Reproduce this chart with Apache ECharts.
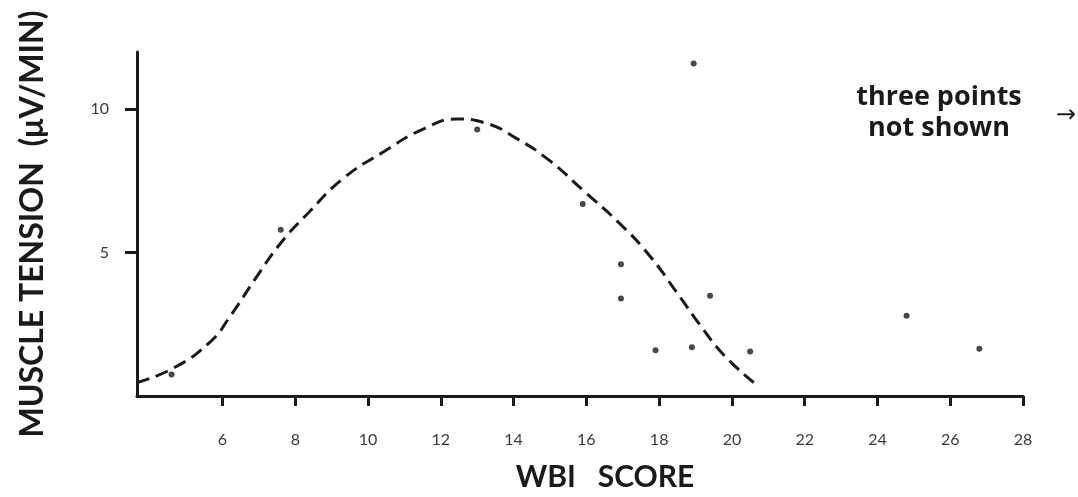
<!DOCTYPE html>
<html>
<head>
<meta charset="utf-8">
<script src="https://cdn.jsdelivr.net/npm/echarts@6/dist/echarts.min.js"></script>
<style>
  html, body { margin: 0; padding: 0; background: #fff; }
  #chart { width: 1078px; height: 497px; }
</style>
</head>
<body>
<div id="chart"></div>
<script>
// tick labels
var xTicks = [6, 8, 10, 12, 14, 16, 18, 20, 22, 24, 26, 28];
var yTicks = [5, 10];

// scatter: WBI score vs muscle tension
var wbiScore = [4.6, 7.6, 13.0, 15.9, 16.95, 16.95, 17.9, 18.9, 18.95, 19.4, 20.5, 24.8, 26.8];
var tension  = [0.75, 5.8, 9.3, 6.7, 4.6, 3.4, 1.6, 1.7, 11.6, 3.5, 1.55, 2.8, 1.65];

// hand drawn dashed trend curve
var curveX = [3.65, 4.66, 5.67, 6.22, 6.95, 7.59, 8.33, 9.33, 10.43, 11.53, 12.45, 13.18, 14.1, 15.0, 15.93, 16.93, 17.76, 18.49, 19.13, 19.77, 20.6];
var curveY = [0.47, 0.98, 1.9, 2.8, 4.18, 5.32, 6.35, 7.6, 8.52, 9.32, 9.66, 9.54, 8.97, 8.2, 7.15, 6.0, 4.86, 3.6, 2.47, 1.44, 0.47];

var ink = '#1a1a1a';
var font = 'Lato';

var myChart = echarts.init(document.getElementById('chart'));

myChart.setOption({
  backgroundColor: '#ffffff',
  animation: false,
  grid: {
    left: 137,
    right: 55,
    top: 52,
    bottom: 95
  },
  xAxis: {
    type: 'value',
    min: 3.65,
    max: 28,
    name: 'WBI   SCORE',
    nameLocation: 'middle',
    nameGap: 66,
    nameTextStyle: {
      fontFamily: font,
      fontWeight: 'bold',
      fontSize: 30,
      color: ink,
      padding: [0, 0, 0, 50]
    },
    axisLine: {
      lineStyle: { color: ink, width: 3 }
    },
    axisTick: {
      show: true,
      length: 10,
      customValues: xTicks,
      lineStyle: { color: ink, width: 3 }
    },
    axisLabel: {
      customValues: xTicks,
      margin: 36,
      fontFamily: font,
      fontSize: 16,
      color: '#3a3a3a'
    },
    splitLine: { show: false }
  },
  yAxis: {
    type: 'value',
    min: 0,
    max: 12,
    name: 'MUSCLE TENSION  (\u03bcV/MIN)',
    nameLocation: 'middle',
    nameRotate: 90,
    nameGap: 88,
    nameTextStyle: {
      fontFamily: font,
      fontWeight: 'bold',
      fontSize: 32,
      color: ink
    },
    axisLine: {
      show: true,
      lineStyle: { color: ink, width: 3 }
    },
    axisTick: {
      show: true,
      length: 12,
      customValues: yTicks,
      lineStyle: { color: ink, width: 3 }
    },
    axisLabel: {
      customValues: yTicks,
      margin: 28,
      fontFamily: font,
      fontSize: 16,
      color: '#3a3a3a'
    },
    splitLine: { show: false }
  },
  graphic: [
    {
      type: 'text',
      x: 939,
      y: 82,
      style: {
        text: 'three points\nnot shown',
        align: 'center',
        verticalAlign: 'top',
        fontFamily: 'Open Sans',
        fontWeight: 'bold',
        fontSize: 27,
        lineHeight: 31,
        fill: ink
      }
    },
    {
      type: 'text',
      left: 1056,
      top: 104,
      style: {
        text: '\u2192',
        fontFamily: 'DejaVu Sans',
        fontSize: 24,
        fill: ink
      }
    }
  ],
  series: [
    {
      name: 'trend',
      type: 'line',
      smooth: true,
      symbol: 'none',
      clip: false,
      lineStyle: {
        color: ink,
        width: 3,
        type: [13, 7]
      },
      data: curveX.map(function (x, i) { return [x, curveY[i]]; })
    },
    {
      name: 'subjects',
      type: 'scatter',
      symbolSize: 6,
      itemStyle: { color: ink },
      data: wbiScore.map(function (x, i) { return [x, tension[i]]; })
    }
  ]
});
</script>
</body>
</html>
